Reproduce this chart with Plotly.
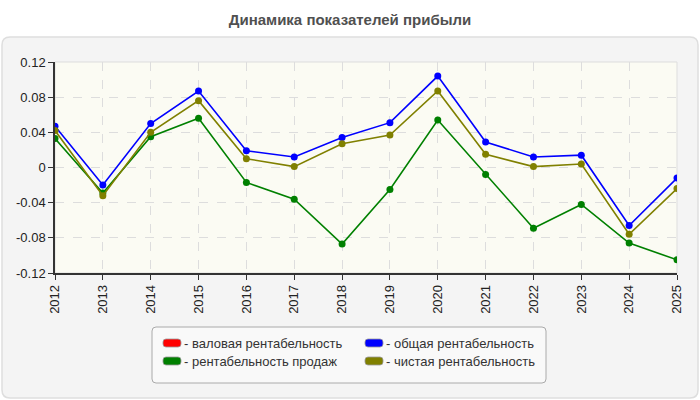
import plotly.graph_objects as go

years = [2012, 2013, 2014, 2015, 2016, 2017, 2018, 2019, 2020, 2021, 2022, 2023, 2024, 2025]
gross = [None] * 14
total = [0.047, -0.020, 0.050, 0.087, 0.019, 0.012, 0.034, 0.051, 0.104, 0.029, 0.012, 0.014, -0.066, -0.012]
sales = [0.033, -0.029, 0.035, 0.056, -0.017, -0.036, -0.087, -0.025, 0.054, -0.008, -0.069, -0.042, -0.086, -0.105]
net = [0.042, -0.032, 0.040, 0.076, 0.010, 0.001, 0.027, 0.037, 0.087, 0.015, 0.001, 0.004, -0.076, -0.024]

names = ["- валовая рентабельность", "- общая рентабельность", "- рентабельность продаж", "- чистая рентабельность"]
colors = ["#ff0000", "#0000ff", "#008000", "#808000"]
series = [gross, total, sales, net]

yticks = [0.12, 0.08, 0.04, 0, -0.04, -0.08, -0.12]
yticklabels = ["0.12", "0.08", "0.04", "0", "-0.04", "-0.08", "-0.12"]

fig = go.Figure()
for name, col, vals in zip(names, colors, series):
    fig.add_trace(go.Scatter(
        x=years, y=vals, mode="lines+markers", name=name, showlegend=False,
        line=dict(color=col, width=1.6), marker=dict(color=col, size=7),
        hoverinfo="x+y"))

L, R, T, B = 55, 23, 62, 127
W, H = 700, 400
pw, ph = W - L - R, H - T - B


def px(x):
    return (x - L) / pw


def py(y):
    return (H - B - y) / ph


def rounded(x0, y0, x1, y1, r):
    return (f"M {px(x0+r)},{py(y0)} L {px(x1-r)},{py(y0)} Q {px(x1)},{py(y0)} {px(x1)},{py(y0+r)} "
            f"L {px(x1)},{py(y1-r)} Q {px(x1)},{py(y1)} {px(x1-r)},{py(y1)} "
            f"L {px(x0+r)},{py(y1)} Q {px(x0)},{py(y1)} {px(x0)},{py(y1-r)} "
            f"L {px(x0)},{py(y0+r)} Q {px(x0)},{py(y0)} {px(x0+r)},{py(y0)} Z")


# rounded panel
fig.add_shape(type="path", path=rounded(2, 37, 698, 398, 8), xref="paper", yref="paper",
              fillcolor="#f4f4f4", line=dict(color="#dedede", width=1.5), layer="below")
fig.add_shape(type="rect", xref="paper", yref="paper", x0=0, x1=1, y0=0, y1=1,
              fillcolor="#fbfbf3", line=dict(color="#dddddd", width=1), layer="below")

# legend box (manual, so swatches sit right against the text like the original)
fig.add_shape(type="path", path=rounded(152, 327, 546, 383, 4), xref="paper", yref="paper",
              fillcolor="#f9f9f9", line=dict(color="#aaaaaa", width=1), layer="above")
leg_pos = [(163, 343), (365, 343), (163, 361), (365, 361)]
for (lx, ly), name, col in zip(leg_pos, names, colors):
    fig.add_shape(type="path", path=rounded(lx, ly - 4, lx + 18, ly + 4, 3), xref="paper", yref="paper",
                  fillcolor=col, line=dict(color="#999999", width=0.8), layer="above")
    fig.add_annotation(x=px(lx + 19), y=py(ly), xref="paper", yref="paper", text=name,
                       showarrow=False, xanchor="left", yanchor="middle",
                       font=dict(size=13, color="#333333"))

fig.update_layout(
    width=W, height=H,
    margin=dict(l=L, r=R, t=T, b=B),
    paper_bgcolor="white", plot_bgcolor="rgba(0,0,0,0)",
    font=dict(family="Liberation Sans, Arial, sans-serif", size=13, color="#222"),
    title=dict(text="<b>Динамика показателей прибыли</b>", x=0.5, xref="container", xanchor="center",
               y=1 - 20 / H, yref="container", yanchor="middle",
               font=dict(family="Liberation Sans, Arial, sans-serif", size=15, color="#505050")),
    showlegend=False,
    xaxis=dict(range=[2012, 2025], tickmode="array", tickvals=years, ticktext=[str(y) for y in years],
               tickangle=-90, showgrid=True, gridcolor="#dddddd", griddash="dash", gridwidth=1,
               showline=True, linecolor="#333", linewidth=1.5, ticks="outside", ticklen=5,
               tickcolor="#333", zeroline=False, fixedrange=True, tickfont=dict(size=13, color="#222")),
    yaxis=dict(range=[-0.12, 0.12], tickmode="array", tickvals=yticks, ticktext=yticklabels,
               showgrid=True, gridcolor="#dddddd", griddash="dash", gridwidth=1,
               showline=True, linecolor="#333", linewidth=1.5, ticks="outside", ticklen=5,
               tickcolor="#333", zeroline=False, fixedrange=True, tickfont=dict(size=13, color="#222")),
)

fig.write_html("out.html")
